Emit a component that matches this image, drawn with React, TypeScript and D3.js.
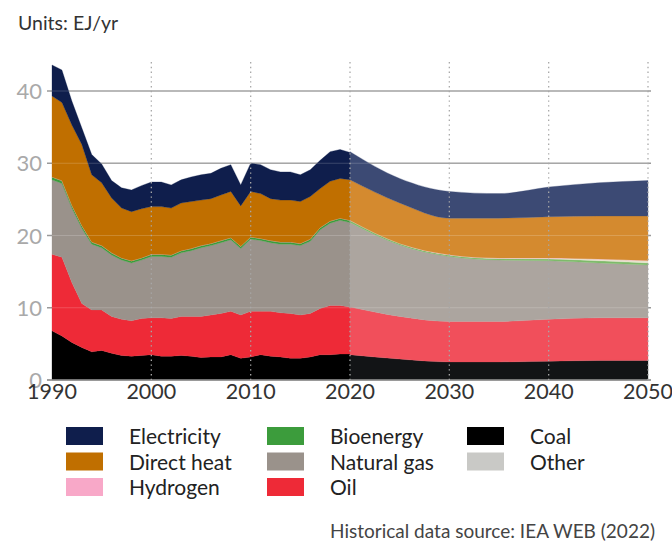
import React from "react";
import * as d3 from "d3";

// ---- Data (EJ/yr) ----
const histYears = [1990,1991,1992,1993,1994,1995,1996,1997,1998,1999,2000,2001,2002,2003,2004,2005,2006,2007,2008,2009,2010,2011,2012,2013,2014,2015,2016,2017,2018,2019,2020];
const histCoal = [6.8,6.1,5.2,4.5,3.9,4.1,3.7,3.4,3.3,3.4,3.5,3.3,3.3,3.4,3.3,3.1,3.2,3.2,3.5,3.0,3.2,3.5,3.3,3.2,3.0,3.0,3.2,3.5,3.5,3.6,3.6];
const histOil = [10.6,10.9,8.3,6.1,5.8,5.6,5.1,5.0,4.9,5.1,5.1,5.3,5.2,5.4,5.5,5.7,5.8,6.0,6.0,6.0,6.3,6.0,6.2,6.1,6.2,6.0,6.0,6.4,6.8,6.7,6.5];
const histGas = [10.3,10.2,10.3,10.4,9.1,8.6,8.5,8.2,8.0,8.1,8.5,8.5,8.5,8.8,9.1,9.5,9.6,9.8,9.9,9.2,10.0,9.8,9.5,9.5,9.6,9.6,10.0,10.9,11.4,11.8,11.7];
const histBio = [0.4,0.4,0.4,0.4,0.3,0.3,0.3,0.3,0.3,0.3,0.3,0.3,0.3,0.3,0.3,0.3,0.3,0.3,0.3,0.3,0.3,0.3,0.3,0.3,0.3,0.3,0.3,0.3,0.3,0.3,0.3];
const histOther = [0,0,0,0,0,0,0,0,0,0,0,0,0,0,0,0,0,0,0,0,0,0,0,0,0,0,0,0,0,0,0];
const histHydrogen = [0,0,0,0,0,0,0,0,0,0,0,0,0,0,0,0,0,0,0,0,0,0,0,0,0,0,0,0,0,0,0];
const histHeat = [11.2,10.8,11.1,11.2,9.3,8.7,7.6,6.9,6.8,6.8,6.6,6.6,6.5,6.6,6.5,6.3,6.2,6.3,6.4,5.6,6.3,6.2,5.8,5.8,5.8,5.8,5.9,5.4,5.5,5.5,5.6];
const histElec = [4.3,4.5,3.3,2.3,2.8,2.6,2.4,2.8,3.0,3.2,3.4,3.4,3.2,3.2,3.4,3.5,3.5,3.7,3.7,2.9,3.9,4.0,4.0,3.9,3.9,3.7,3.7,3.9,4.1,4.0,3.8];

const projYears = [2020,2025,2030,2035,2040,2045,2050];
const projCoal = [3.5,2.9,2.5,2.5,2.6,2.7,2.7];
const projOil = [6.6,5.9,5.6,5.6,5.8,5.9,5.9];
const projGas = [11.7,9.9,9.0,8.5,8.1,7.6,7.3];
const projBio = [0.3,0.2,0.2,0.2,0.25,0.3,0.3];
const projOther = [0,0,0,0.05,0.1,0.2,0.3];
const projHydrogen = [0,0,0.05,0.05,0.05,0.05,0.05];
const projHeat = [5.6,5.6,5.05,5.5,5.7,5.95,6.15];
const projElec = [3.9,3.4,3.7,3.4,4.1,4.6,4.9];

const seriesKeys = ["coal","oil","gas","bio","other","hydrogen","heat","elec"];
const histColors = ["#000000","#ee2a37","#9a928b","#3c9c3c","#c9c9c6","#f8a8c8","#c06f00","#0f1e4c"];
const projColors = ["#121416","#f14f5b","#aca59f","#7dba6a","#e6e2cc","#f9c0d6","#d48a2f","#3c4a74"];

const yTicks = [0,10,20,30,40];
const xTicks = [1990,2000,2010,2020,2030,2040,2050];
const dottedYears = [2000,2010,2020,2030,2040,2050];

const legendItems = [
  { label: "Electricity", color: "#0f1e4c", col: 0, row: 0 },
  { label: "Direct heat", color: "#c06f00", col: 0, row: 1 },
  { label: "Hydrogen", color: "#f8a8c8", col: 0, row: 2 },
  { label: "Bioenergy", color: "#3c9c3c", col: 1, row: 0 },
  { label: "Natural gas", color: "#9a928b", col: 1, row: 1 },
  { label: "Oil", color: "#ee2a37", col: 1, row: 2 },
  { label: "Coal", color: "#000000", col: 2, row: 0 },
  { label: "Other", color: "#c9c9c6", col: 2, row: 1 },
];

function buildRows(years: number[], arrays: number[][]) {
  return years.map((yr, i) => {
    const r: any = { year: yr };
    seriesKeys.forEach((k, j) => (r[k] = arrays[j][i]));
    return r;
  });
}

export default function App() {
  const W = 672, H = 541;
  const x = d3.scaleLinear().domain([1990, 2050]).range([52, 648]);
  const y = d3.scaleLinear().domain([0, 40]).range([380, 91]);

  const histRows = buildRows(histYears, [histCoal, histOil, histGas, histBio, histOther, histHydrogen, histHeat, histElec]);
  const projRows = buildRows(projYears, [projCoal, projOil, projGas, projBio, projOther, projHydrogen, projHeat, projElec]);
  const stack = d3.stack<any>().keys(seriesKeys);
  const histStack = stack(histRows);
  const projStack = stack(projRows);

  const histArea = d3.area<any>().x((d) => x(d.data.year)).y0((d) => y(d[0])).y1((d) => y(d[1])).curve(d3.curveLinear);
  const projArea = d3.area<any>().x((d) => x(d.data.year)).y0((d) => y(d[0])).y1((d) => y(d[1])).curve(d3.curveMonotoneX);

  const font = "Lato, 'Open Sans', sans-serif";
  const legendColX = [66, 267, 467];
  const legendRowY = [427, 452.5, 478];

  return (
    <svg width={W} height={H} style={{ display: "block", position: "absolute", left: 0, top: 0, background: "#fff" }} fontFamily={font}>
      <text x={18} y={30} fontSize={19.5} fill="#333">Units: EJ/yr</text>

      {/* gridlines under */}
      {yTicks.map((t) => (
        <line key={"g" + t} x1={47} x2={651} y1={y(t)} y2={y(t)} stroke="#9a9a9a" strokeWidth={1.4} />
      ))}

      {histStack.map((s, i) => (
        <path key={"h" + i} d={histArea(s) || ""} fill={histColors[i]} stroke={histColors[i]} strokeWidth={0.3} />
      ))}
      {projStack.map((s, i) => (
        <path key={"p" + i} d={projArea(s) || ""} fill={projColors[i]} stroke={projColors[i]} strokeWidth={0.3} />
      ))}

      {/* faint gridlines over areas */}
      {yTicks.filter((t) => t > 0).map((t) => (
        <line key={"go" + t} x1={52} x2={648} y1={y(t)} y2={y(t)} stroke="#ffffff" strokeOpacity={0.18} strokeWidth={1.2} />
      ))}
      <line x1={47} x2={651} y1={y(0)} y2={y(0)} stroke="#9a9a9a" strokeWidth={1.4} />

      {/* dotted verticals */}
      {dottedYears.map((yr) => (
        <line key={"v" + yr} x1={x(yr)} x2={x(yr)} y1={62} y2={y(0)} stroke="#a8a8a8" strokeWidth={1.3} strokeDasharray="1.4 3.4" />
      ))}

      {/* y labels */}
      {yTicks.map((t) => (
        <text key={"yl" + t} x={42} y={y(t) + 8} fontSize={22} fill="#a9a9a9" textAnchor="end">{t}</text>
      ))}
      {/* x labels */}
      {xTicks.map((t) => (
        <text key={"xl" + t} x={x(t)} y={399} fontSize={21.5} fill="#333" textAnchor="middle">{t}</text>
      ))}

      {/* legend */}
      {legendItems.map((it) => (
        <g key={it.label}>
          <rect x={legendColX[it.col]} y={legendRowY[it.row]} width={37} height={18} fill={it.color} />
          <text x={legendColX[it.col] + 63} y={legendRowY[it.row] + 17} fontSize={21} fill="#222">{it.label}</text>
        </g>
      ))}

      <text x={655} y={538} fontSize={19} fill="#444" textAnchor="end">Historical data source: IEA WEB (2022)</text>
    </svg>
  );
}
